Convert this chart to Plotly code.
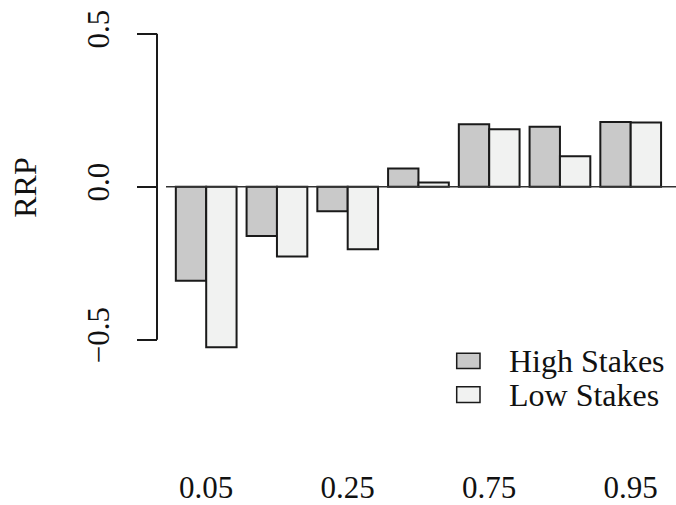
import plotly.graph_objects as go

# ---- data ----
categories = ["0.05", "0.10", "0.25", "0.50", "0.75", "0.90", "0.95"]
shown_labels = ["0.05", "0.25", "0.75", "0.95"]
series_names = ["High Stakes", "Low Stakes"]
high_stakes = [-0.307, -0.161, -0.080, 0.060, 0.204, 0.196, 0.212]
low_stakes = [-0.525, -0.228, -0.204, 0.014, 0.188, 0.100, 0.210]
y_ticks = [-0.5, 0.0, 0.5]
y_ticktext = ["\u22120.5", "0.0", "0.5"]

# ---- style ----
FONT = "Liberation Serif"
EDGE = "#1a1a1a"
fills = ["#C9C9C9", "#F1F2F1"]

W, H = 676, 505
ML, MR, MT, MB = 157, 0, 20, 35
PW, PH = W - ML - MR, H - MT - MB

fig = go.Figure()
for name, vals, col in zip(series_names, [high_stakes, low_stakes], fills):
    fig.add_trace(go.Bar(
        x=categories, y=vals, name=name,
        marker=dict(color=col, line=dict(color=EDGE, width=2)),
        showlegend=False,
    ))

def px_x(p):
    return (p - ML) / PW

def px_y(p):
    return (H - MB - p) / PH

x_left_px = 166
unit = 70.75
g1 = 206.2
xr0 = (x_left_px - g1) / unit
xr1 = xr0 + (W - x_left_px) / unit

y_scale = 310.0
y0_px = 189.0
yr = [(y0_px - (H - MB)) / y_scale, (y0_px - MT) / y_scale]

fig.update_layout(
    width=W, height=H, autosize=False,
    margin=dict(l=ML, r=MR, t=MT, b=MB),
    paper_bgcolor="white", plot_bgcolor="white",
    barmode="group", bargap=0.1414, bargroupgap=0,
    font=dict(family=FONT, size=31, color="#111"),
    xaxis=dict(
        domain=[px_x(x_left_px), 1],
        type="category", categoryorder="array", categoryarray=categories,
        range=[xr0, xr1],
        tickmode="array", tickvals=shown_labels, ticktext=shown_labels,
        ticks="", showline=False, showgrid=False, zeroline=False,
        ticklabelstandoff=2,
        tickfont=dict(family=FONT, size=31, color="#111"),
    ),
    yaxis=dict(
        anchor="free", position=0,
        range=yr,
        tickmode="array", tickvals=y_ticks, ticktext=y_ticktext,
        ticks="outside", ticklen=20, tickwidth=2, tickcolor=EDGE,
        tickangle=-90, ticklabelstandoff=16,
        showline=False, showgrid=False, zeroline=False,
        tickfont=dict(family=FONT, size=31, color="#111"),
    ),
)

shapes = []
shapes.append(dict(type="line", xref="x domain", yref="y", x0=0, x1=1, y0=0, y1=0,
                   line=dict(color="#333", width=1.5)))
shapes.append(dict(type="line", xref="paper", yref="y", x0=0, x1=0,
                   y0=min(y_ticks), y1=max(y_ticks), line=dict(color=EDGE, width=2)))

leg_rows = [(357.7, 373.3, 365.5), (391.7, 407.7, 399.7)]
annotations = []
for (top, bot, mid), name, col in zip(leg_rows, series_names, fills):
    shapes.append(dict(type="rect", xref="paper", yref="paper",
                       x0=px_x(456.7), x1=px_x(480), y0=px_y(bot), y1=px_y(top),
                       fillcolor=col, line=dict(color=EDGE, width=1.5)))
    annotations.append(dict(xref="paper", yref="paper", x=px_x(507), y=px_y(mid),
                            xanchor="left", yanchor="middle", text=name, showarrow=False,
                            font=dict(family=FONT, size=32, color="#111")))

annotations.append(dict(xref="paper", yref="paper", x=px_x(25), y=px_y(190),
                        xanchor="center", yanchor="middle", text="RRP", textangle=-90,
                        showarrow=False, font=dict(family=FONT, size=32, color="#111")))

fig.update_layout(shapes=shapes, annotations=annotations)
fig.write_html("out.html", config={"displayModeBar": False},
               post_script="document.body.style.margin='0';document.body.style.overflow='hidden';")
